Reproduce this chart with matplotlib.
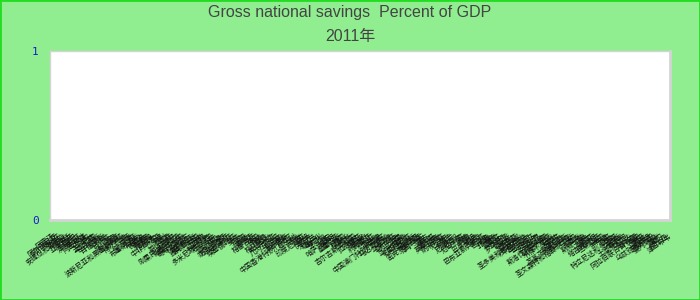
import matplotlib
matplotlib.use("Agg")
import matplotlib.pyplot as plt
import numpy as np
from matplotlib.patches import Rectangle

plt.rcParams['font.family'] = ['Liberation Sans', 'Noto Sans CJK SC', 'DejaVu Sans']

title = "Gross national savings  Percent of GDP"
subtitle = "2011年"

countries = [
    "阿富汗", "阿尔巴尼亚", "阿尔及利亚", "安哥拉", "安提瓜和巴布达", "阿根廷", "亚美尼亚", "阿鲁巴",
    "澳大利亚", "奥地利", "阿塞拜疆", "巴哈马", "巴林", "孟加拉国", "巴巴多斯", "白俄罗斯", "比利时",
    "伯利兹", "贝宁", "不丹", "玻利维亚", "波斯尼亚和黑塞哥维那", "博茨瓦纳", "巴西", "文莱", "保加利亚",
    "布基纳法索", "布隆迪", "佛得角", "柬埔寨", "喀麦隆", "加拿大", "中非共和国", "乍得", "智利", "中国",
    "哥伦比亚", "科摩罗", "刚果民主共和国", "刚果共和国", "哥斯达黎加", "科特迪瓦", "克罗地亚", "塞浦路斯",
    "捷克共和国", "丹麦", "吉布提", "多米尼克", "多米尼加共和国", "厄瓜多尔", "埃及", "萨尔瓦多",
    "赤道几内亚", "厄立特里亚", "爱沙尼亚", "埃塞俄比亚", "斐济", "芬兰", "法国", "加蓬", "冈比亚",
    "格鲁吉亚", "德国", "加纳", "希腊", "格林纳达", "危地马拉", "几内亚", "几内亚比绍", "圭亚那", "海地",
    "洪都拉斯", "中国香港特别行政区", "匈牙利", "冰岛", "印度", "印度尼西亚", "伊朗", "伊拉克", "爱尔兰",
    "以色列", "意大利", "牙买加", "日本", "约旦", "哈萨克斯坦", "肯尼亚", "基里巴斯", "韩国", "科索沃",
    "科威特", "吉尔吉斯共和国", "老挝", "拉脱维亚", "黎巴嫩", "莱索托", "利比里亚", "利比亚", "立陶宛",
    "卢森堡", "中国澳门特别行政区", "马达加斯加", "马拉维", "马来西亚", "马尔代夫", "马里", "马耳他",
    "马绍尔群岛", "毛里塔尼亚", "毛里求斯", "墨西哥", "密克罗尼西亚", "摩尔多瓦", "蒙古", "黑山", "摩洛哥",
    "莫桑比克", "缅甸", "纳米比亚", "尼泊尔", "荷兰", "新西兰", "尼加拉瓜", "尼日尔", "尼日利亚", "挪威",
    "阿曼", "巴基斯坦", "帕劳", "巴拿马", "巴布亚新几内亚", "巴拉圭", "秘鲁", "菲律宾", "波兰", "葡萄牙",
    "卡塔尔", "罗马尼亚", "俄罗斯", "卢旺达", "萨摩亚", "圣马力诺", "圣多美和普林西比", "沙特阿拉伯",
    "塞内加尔", "塞尔维亚", "塞舌尔", "塞拉利昂", "新加坡", "斯洛伐克共和国", "斯洛文尼亚", "所罗门群岛",
    "南非", "西班牙", "斯里兰卡", "圣基茨和尼维斯", "圣卢西亚", "圣文森特和格林纳丁斯", "苏丹", "苏里南",
    "斯威士兰", "瑞典", "瑞士", "叙利亚", "塔吉克斯坦", "坦桑尼亚", "泰国", "东帝汶", "多哥", "汤加",
    "特立尼达和多巴哥", "突尼斯", "土耳其", "土库曼斯坦", "乌干达", "乌克兰", "阿拉伯联合酋长国", "英国",
    "美国", "乌拉圭", "乌兹别克斯坦", "瓦努阿图", "委内瑞拉", "越南", "也门", "赞比亚", "津巴布韦",
]
# no values shown in the chart for 2011
values = [np.nan] * len(countries)

y_ticks = [0, 1]

fig = plt.figure(figsize=(7, 3), dpi=100)
fig.patch.set_facecolor('#90ee90')
fig.patches.append(Rectangle((0, 0), 1, 1, transform=fig.transFigure, fill=False,
                             edgecolor='#22dd22', linewidth=2))

ax = fig.add_axes([50 / 700, 80 / 300, 620 / 700, 169 / 300])
ax.set_facecolor('white')
x = np.arange(len(countries))
ax.bar(x, values, color='#4572a7')
ax.set_xlim(-0.5, len(countries) - 0.5)
ax.set_ylim(0, 1)

for s in ax.spines.values():
    s.set_color('#d4d4d4')
    s.set_linewidth(1)
ax.spines['right'].set_linewidth(2)
ax.spines['bottom'].set_linewidth(2)

ax.set_yticks(y_ticks)
ax.set_yticklabels([str(v) for v in y_ticks], color='#1a1acc', fontsize=8,
                   family='DejaVu Sans Mono')
ax.tick_params(axis='y', length=0, pad=8)

ax.set_xticks(x)
ax.set_xticklabels(countries, rotation=35, ha='right', rotation_mode='anchor',
                   fontsize=5, family=['Noto Sans CJK SC', 'DejaVu Sans'], color='#111111')
ax.tick_params(axis='x', length=0, pad=9)

fig.text(0.5, 1 - 13 / 300, title, ha='center', va='center', fontsize=11.5, color='#444444')
fig.text(0.5, 1 - 37 / 300, subtitle, ha='center', va='center', fontsize=11.5, color='#444444')

fig.savefig('out.png', dpi=100, facecolor=fig.get_facecolor())
